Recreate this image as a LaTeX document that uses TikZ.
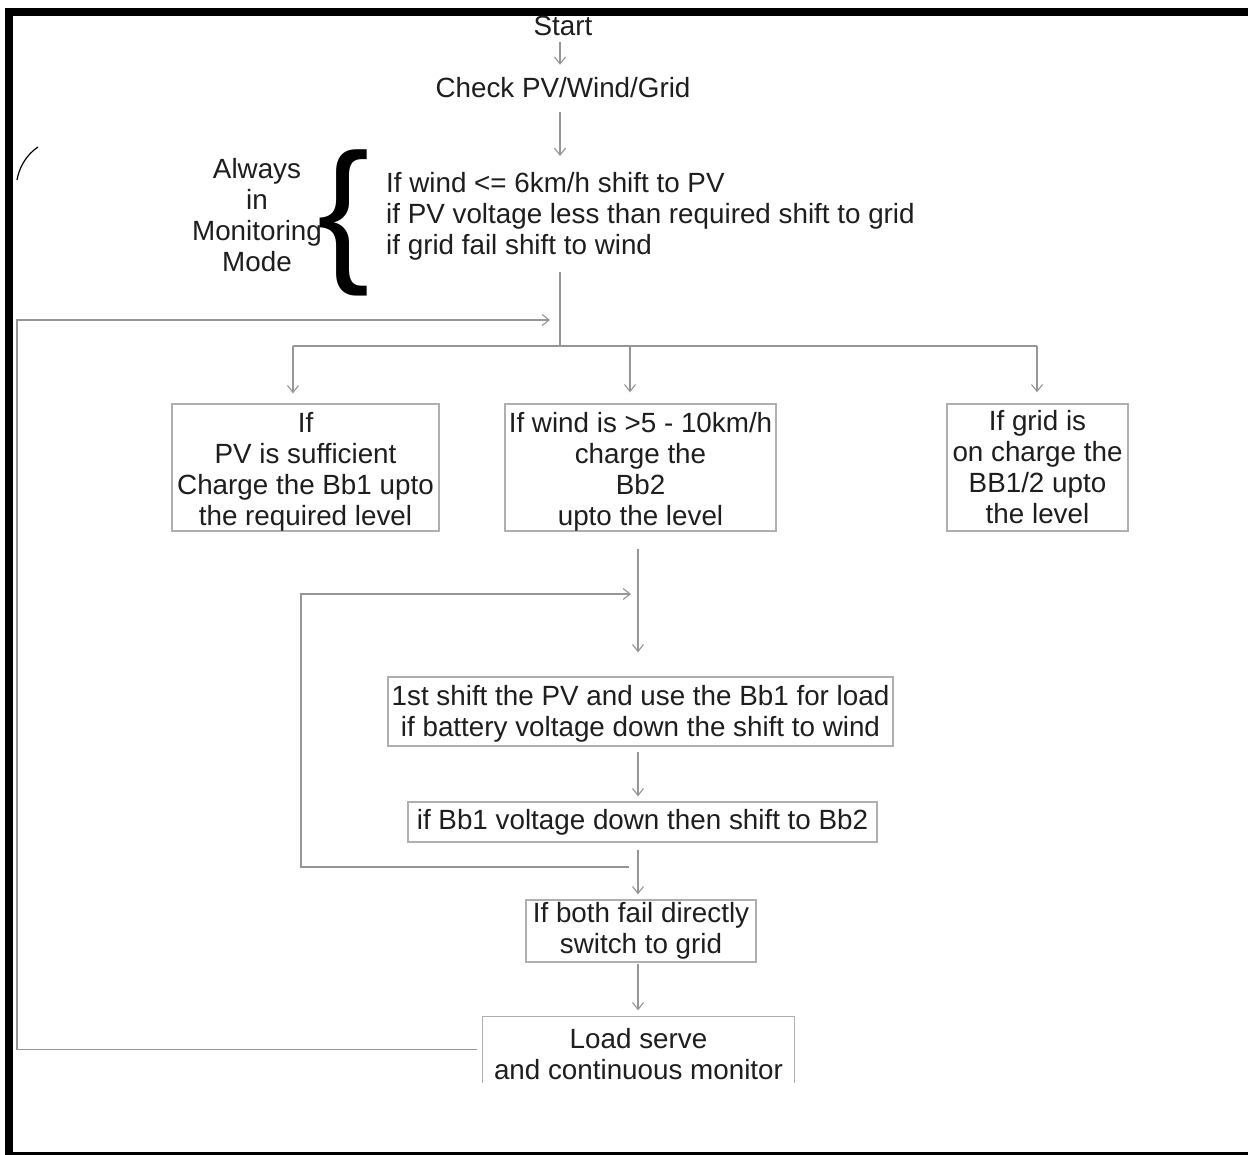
\documentclass[tikz,border=0pt]{standalone}
\usepackage{fontspec}
\setmainfont{Liberation Sans}
\usetikzlibrary{arrows.meta,calc}
\definecolor{ink}{RGB}{30,30,30}
\definecolor{linegray}{RGB}{150,150,150}
\definecolor{boxgray}{RGB}{175,175,175}
\newcommand\dgfont{\fontsize{27.8}{31}\selectfont}
\newcommand\lowstrut{\rule{0pt}{28pt}}
\tikzset{
  txt/.style={inner sep=0pt, font=\dgfont, text=ink},
  onel/.style={txt, text height=20pt, text depth=6pt},
  flowbox/.style={draw=boxgray, line width=1.3pt, inner sep=0pt, font=\dgfont, text=ink, align=center},
  conn/.style={draw=linegray, line width=1.1pt},
  arr/.style={conn, -{Straight Barb[length=7pt,width=11pt]}},
  border/.style={fill=black, draw=none},
}
\begin{document}
\begin{tikzpicture}[x=1pt,y=-1pt]
\useasboundingbox (0,0) rectangle (1248,1155);
\fill[white] (0,0) rectangle (1248,1155);
% frame (top, left, bottom)
\fill[border] (5,8) rectangle (1248,16);
\fill[border] (5,8) rectangle (13,1155);
\fill[border] (5,1152) rectangle (1248,1155);
% small stray arc
\draw[black, line width=1.2pt] (38,147) .. controls (26,155) and (19,168) .. (17,180);

% spine coordinates
\coordinate (sp) at (560,0);
\coordinate (vx) at (638,0);

% top texts
\node[onel] (st) at (563,29) {Start};
\node[onel] (ck) at (563,91) {Check PV/Wind/Grid};
\node[txt, align=left, anchor=north west] (cond) at (386,172)
  {If wind <= 6km/h shift to PV\\if PV voltage less than required shift to grid\\if grid fail shift to wind};
\node[txt, align=center, anchor=north] (mon) at (257,158) {Always\\in\\Monitoring\\Mode};
\node[inner sep=0pt, text=black, font=\fontsize{157}{157}\selectfont] (brace) at (344,222.5) {\{};

\draw[arr, shorten >=13pt] (st.south -| sp) -- (ck.north -| sp);
\draw[arr, shorten <=8pt, shorten >=16pt] (ck.south -| sp) -- (cond.north -| sp);

% branch boxes
\node[flowbox, minimum width=267pt, minimum height=127pt] (b1) at (305.5,467.5)
  {\lowstrut If\\PV is sufficient\\Charge the Bb1 upto\\the required level};
\node[flowbox, minimum width=271pt, minimum height=127pt] (b2) at (640.5,467.5)
  {\lowstrut If wind is >5 - 10km/h\\charge the\\Bb2\\upto the level};
\node[flowbox, minimum width=181pt, minimum height=127pt] (b3) at (1037.5,467.5)
  {If grid is\\on charge the\\BB1/2 upto\\the level};

\coordinate (jn) at (560,346);
\coordinate (jL) at (293,346);
\coordinate (jC) at (630,346);
\coordinate (jR) at (1037,346);
\draw[conn, shorten <=12pt] (cond.south -| sp) -- (jn);
\draw[conn] (jL) -- (jR);
\draw[arr, shorten >=10pt] (jL) -- (jL |- b1.north);
\draw[arr, shorten >=11pt] (jC) -- (jC |- b2.north);
\draw[arr, shorten >=11pt] (jR) -- (jR |- b3.north);

% lower chain
\node[flowbox, minimum width=505pt, minimum height=69pt] (b4) at (640.5,711.5)
  {\rule{0pt}{24pt}1st shift the PV and use the Bb1 for load\\if battery voltage down the shift to wind};
\node[flowbox, minimum width=469pt, minimum height=40pt] (b5) at (642.5,822)
  {if Bb1 voltage down then shift to Bb2};
\node[flowbox, minimum width=230pt, minimum height=62pt] (b6) at (641,931)
  {If both fail directly\\switch to grid};
\node[flowbox, draw=none, minimum width=311pt, minimum height=65pt] (b7) at (638.5,1049.5)
  {\rule{0pt}{29pt}Load serve\\and continuous monitor};
\draw[draw=boxgray, line width=1.3pt] (b7.south west) -- (b7.north west) -- (b7.north east) -- (b7.south east);

\draw[arr, shorten <=17pt, shorten >=24pt] (b2.south -| vx) -- (b4.north -| vx);
\draw[arr, shorten <=5pt, shorten >=5pt] (b4.south -| vx) -- (b5.north -| vx);
\draw[arr, shorten <=7pt, shorten >=5pt] (b5.south -| vx) -- (b6.north -| vx);
\draw[arr, shorten <=1pt, shorten >=6pt] (b6.south -| vx) -- (b7.north -| vx);

% inner feedback loop
\coordinate (l2s) at (629,867);
\coordinate (l2b) at (301,867);
\coordinate (l2c) at (301,594);
\coordinate (l2e) at (631,594);
\draw[arr] (l2s) -- (l2b) -- (l2c) -- (l2e);

% outer feedback loop
\coordinate (l1c) at (17,320);
\coordinate (l1e) at (550,320);
\draw[arr] ([xshift=-5pt]b7.west) -- (b7.west -| l1c) -- (l1c) -- (l1e);
\end{tikzpicture}
\end{document}
